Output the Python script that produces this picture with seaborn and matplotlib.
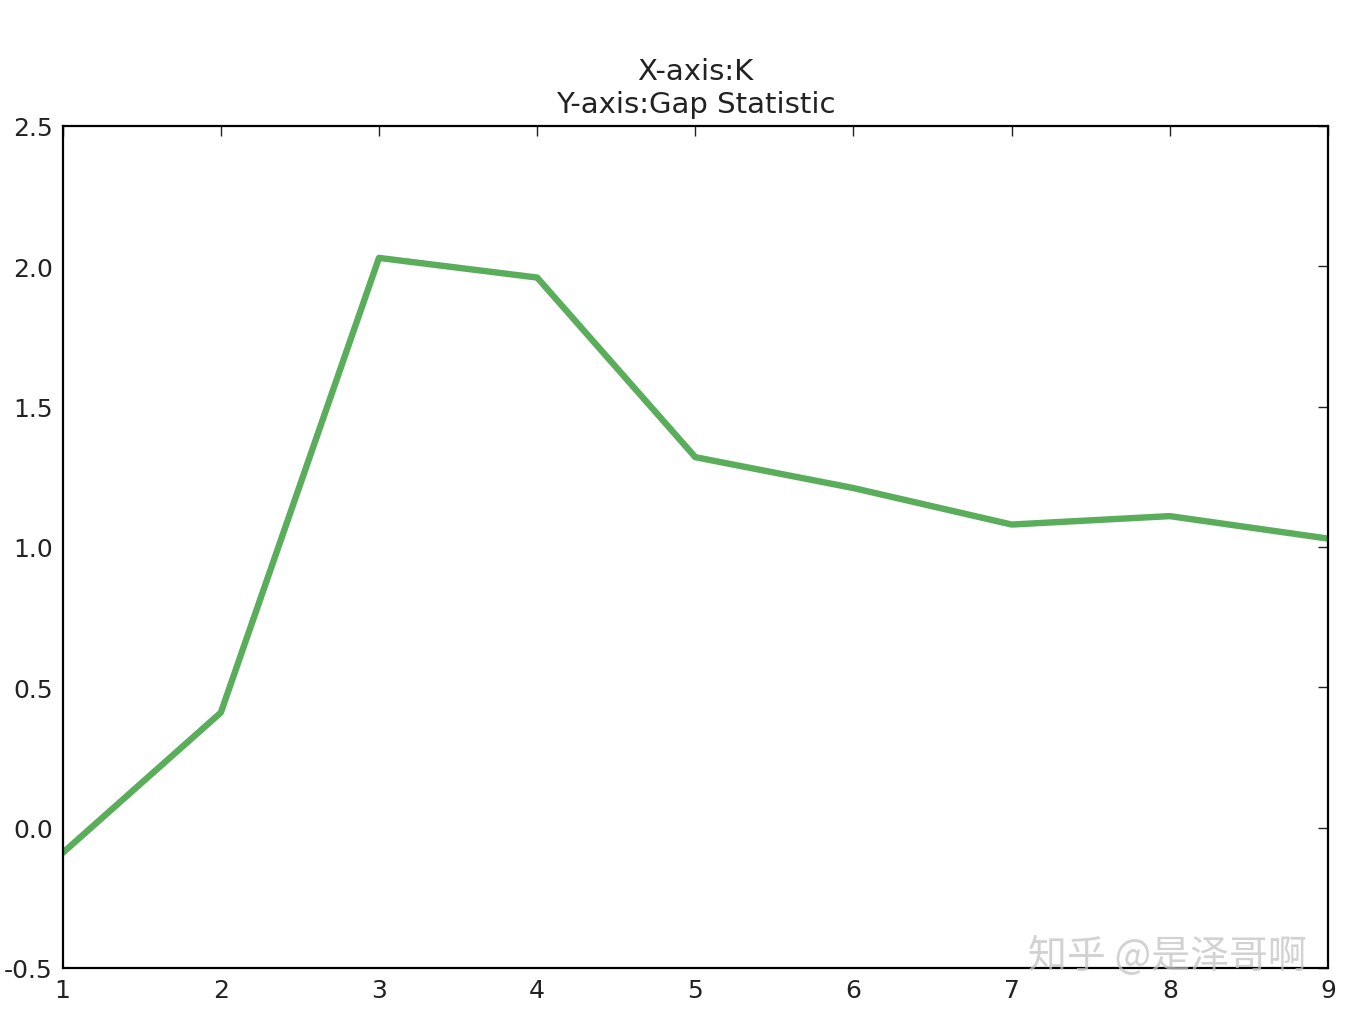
import matplotlib
matplotlib.use("Agg")
import matplotlib.pyplot as plt
import seaborn as sns
import pandas as pd

# Gap statistic values per K
k_values = [1, 2, 3, 4, 5, 6, 7, 8, 9]
gap_values = [-0.09, 0.41, 2.03, 1.96, 1.32, 1.21, 1.08, 1.11, 1.03]

df = pd.DataFrame({"K": k_values, "Gap": gap_values})

sns.set_style("white")
plt.rcParams["font.family"] = ["DejaVu Sans", "Noto Sans CJK SC"]
plt.rcParams["axes.unicode_minus"] = False

fig, ax = plt.subplots(figsize=(13.62, 10.2), dpi=100)
fig.subplots_adjust(left=0.046, right=0.975, top=0.8755, bottom=0.05)

sns.lineplot(data=df, x="K", y="Gap", ax=ax, color="#5aad5a", linewidth=4.6)

ax.set_xlim(1, 9)
ax.set_ylim(-0.5, 2.5)
ax.set_xticks(range(1, 10))
ax.set_yticks([-0.5, 0.0, 0.5, 1.0, 1.5, 2.0, 2.5])
ax.set_xlabel("")
ax.set_ylabel("")
ax.tick_params(direction="in", top=True, right=True, length=7, width=1,
               labelsize=18, colors="#222222", pad=7)
for s in ax.spines.values():
    s.set_linewidth(1.6)
    s.set_color("black")

ax.set_title("X-axis:K\nY-axis:Gap Statistic", fontsize=21, color="#222222",
             pad=10, linespacing=1.25)

# watermark
fig.text(0.857, 0.062, "知乎 @是泽哥啊", fontsize=28, color="#c4c4c4", alpha=0.75,
         ha="center", va="center", family=["Noto Sans CJK SC", "DejaVu Sans"])

fig.savefig("out.png", dpi=100)
